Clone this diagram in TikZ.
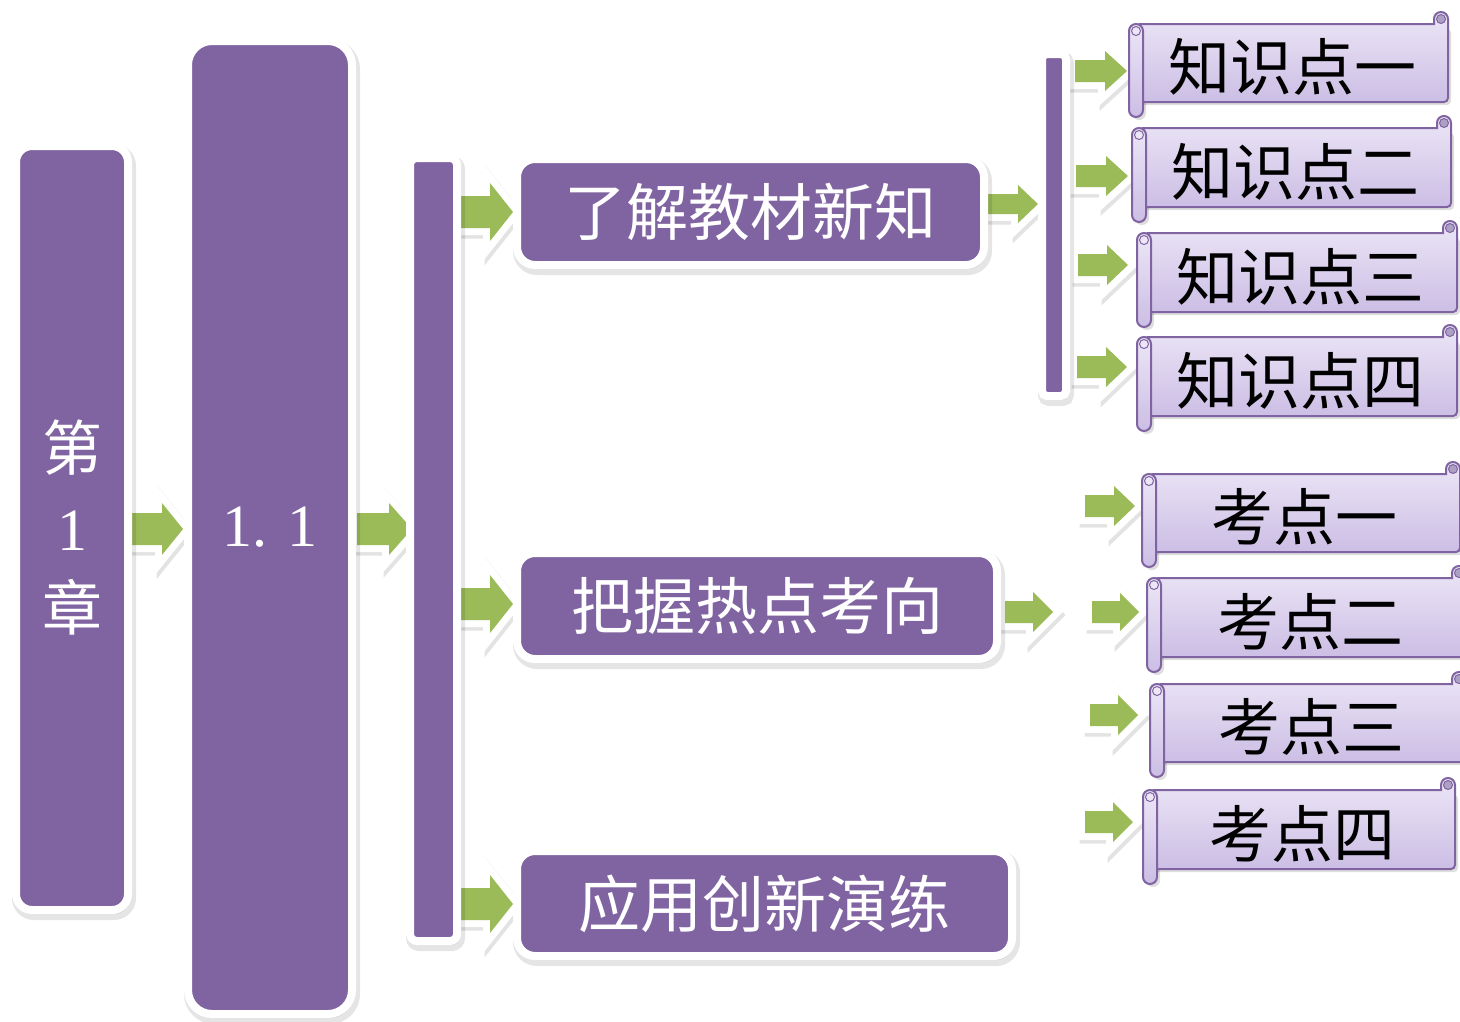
\documentclass[tikz,border=0pt]{standalone}
\usepackage{fontspec}
\setmainfont{Liberation Serif}
\newfontfamily\cjk{Noto Sans CJK SC}
\definecolor{pp}{HTML}{8064A2}
\definecolor{gr}{HTML}{9BBB59}
\definecolor{sctop}{RGB}{236,230,246}
\definecolor{scbot}{RGB}{204,190,229}
\definecolor{curl}{RGB}{172,160,196}
\tikzset{
  pbox/.style={fill=pp, draw=white, line width=8pt, text=white, inner sep=0pt,
    font=\cjk\fontsize{62}{70}\selectfont,
    preaction={fill=black, draw=black, opacity=0.10, line width=12pt,
      transform canvas={xshift=2pt,yshift=-4pt}}},
  garr/.style={fill=gr, line join=miter,
    preaction={draw=black, fill=black, opacity=0.11, line width=15pt,
      transform canvas={xshift=2pt,yshift=-3pt}},
    preaction={draw=white, line width=14pt}},
  scbody/.style={draw=pp, line width=2pt, top color=sctop, bottom color=scbot},
  sctext/.style={text=black, inner sep=0pt, font=\cjk\fontsize{62}{70}\selectfont},
}
% block arrow: x-start, y-centre, length, shaft half, head half, head length
\newcommand\garrow[6]{%
  \path[garr] (#1,#2-#4) -- (#1+#3-#6,#2-#4) -- (#1+#3-#6,#2-#5) -- (#1+#3,#2)
    -- (#1+#3-#6,#2+#5) -- (#1+#3-#6,#2+#4) -- (#1,#2+#4) -- cycle;}
% scroll: L, R, T, B, name, text
\newcommand\myscroll[6]{%
  \fill[black,opacity=0.13,rounded corners=4pt] (#1+8,#3+17) rectangle (#2+3,#4-12);
  \fill[black,opacity=0.13,rounded corners=7pt] (#1+3,#3+16) rectangle (#1+17,#4+3);
  \draw[scbody] (#1+7,#3+12) -- (#2-14,#3+12) [rounded corners=7pt] -- (#2-14,#3)
    -- (#2,#3) [rounded corners=4pt] -- (#2,#4-15) -- (#1+7,#4-15) -- cycle;
  \filldraw[fill=curl, draw=pp, line width=1pt] (#2-7,#3+7) circle (4.5pt);
  \draw[scbody, rounded corners=7pt] (#1,#3+12) rectangle (#1+14,#4);
  \filldraw[fill=sctop, draw=pp, line width=1pt] (#1+7,#3+19) circle (4.5pt);
  \node[sctext] (#5) at ({(#1+7+#2)/2},{(#3+#4)/2+2.5}) {#6};}

\begin{document}
\begin{tikzpicture}[x=1pt,y=-1pt]
\useasboundingbox (0,0) rectangle (1460,1021);
\clip (0,0) rectangle (1460,1021);
\fill[white] (0,0) rectangle (1460,1021);

% arrows
\garrow{132}{529}{51}{16}{26}{21}
\garrow{357}{529}{55}{16}{26}{23}
\garrow{461}{212}{52}{16}{29}{23}
\garrow{461}{604}{52}{16}{29}{23}
\garrow{461}{904}{52}{16}{29}{23}
\garrow{988}{204}{50}{10}{19}{20}
\garrow{1005}{612}{48}{11}{20}{20}
\garrow{1075}{71}{52}{11}{20}{22}
\garrow{1076}{176}{52}{11}{20}{22}
\garrow{1078}{265}{50}{11}{20}{21}
\garrow{1077}{367}{50}{11}{20}{21}
\garrow{1085}{506}{50}{11}{20}{21}
\garrow{1092}{612}{47}{11}{19}{19}
\garrow{1090}{715}{48}{11}{20}{20}
\garrow{1085}{822}{48}{11}{20}{20}

% purple boxes
\node[pbox, minimum width=112pt, minimum height=764pt, rounded corners=16pt,
  align=center, font=\cjk\fontsize{60}{80}\selectfont] (c1) at (72,528) {第\\{\rmfamily 1}\\章};
\node[pbox, minimum width=164pt, minimum height=973pt, rounded corners=24pt,
  font=\rmfamily\fontsize{60}{70}\selectfont] (c2) at (270,527.5) {1. 1};
\node[pbox, minimum width=47pt, minimum height=783pt, rounded corners=7pt] (bar1) at (433.5,549.5) {};
\node[pbox, minimum width=467pt, minimum height=106pt, rounded corners=18pt] (b1) at (750.5,212) {了解教材新知};
\node[pbox, minimum width=480pt, minimum height=106pt, rounded corners=18pt] (b2) at (757,606) {把握热点考向};
\node[pbox, minimum width=495pt, minimum height=105pt, rounded corners=18pt] (b3) at (764.5,903.5) {应用创新演练};
\node[pbox, minimum width=24pt, minimum height=342pt, rounded corners=5pt] (bar2) at (1054,225) {};

% scrolls
\myscroll{1129}{1448}{12}{117}{k1}{知识点一}
\myscroll{1132}{1451}{116}{222}{k2}{知识点二}
\myscroll{1137}{1457}{221}{327}{k3}{知识点三}
\myscroll{1137}{1457}{325}{431}{k4}{知识点四}
\myscroll{1142}{1460}{462}{567}{e1}{考点一}
\myscroll{1147}{1466}{566}{672}{e2}{考点二}
\myscroll{1150}{1466}{672}{777}{e3}{考点三}
\myscroll{1143}{1455}{778}{884}{e4}{考点四}
\end{tikzpicture}
\end{document}
